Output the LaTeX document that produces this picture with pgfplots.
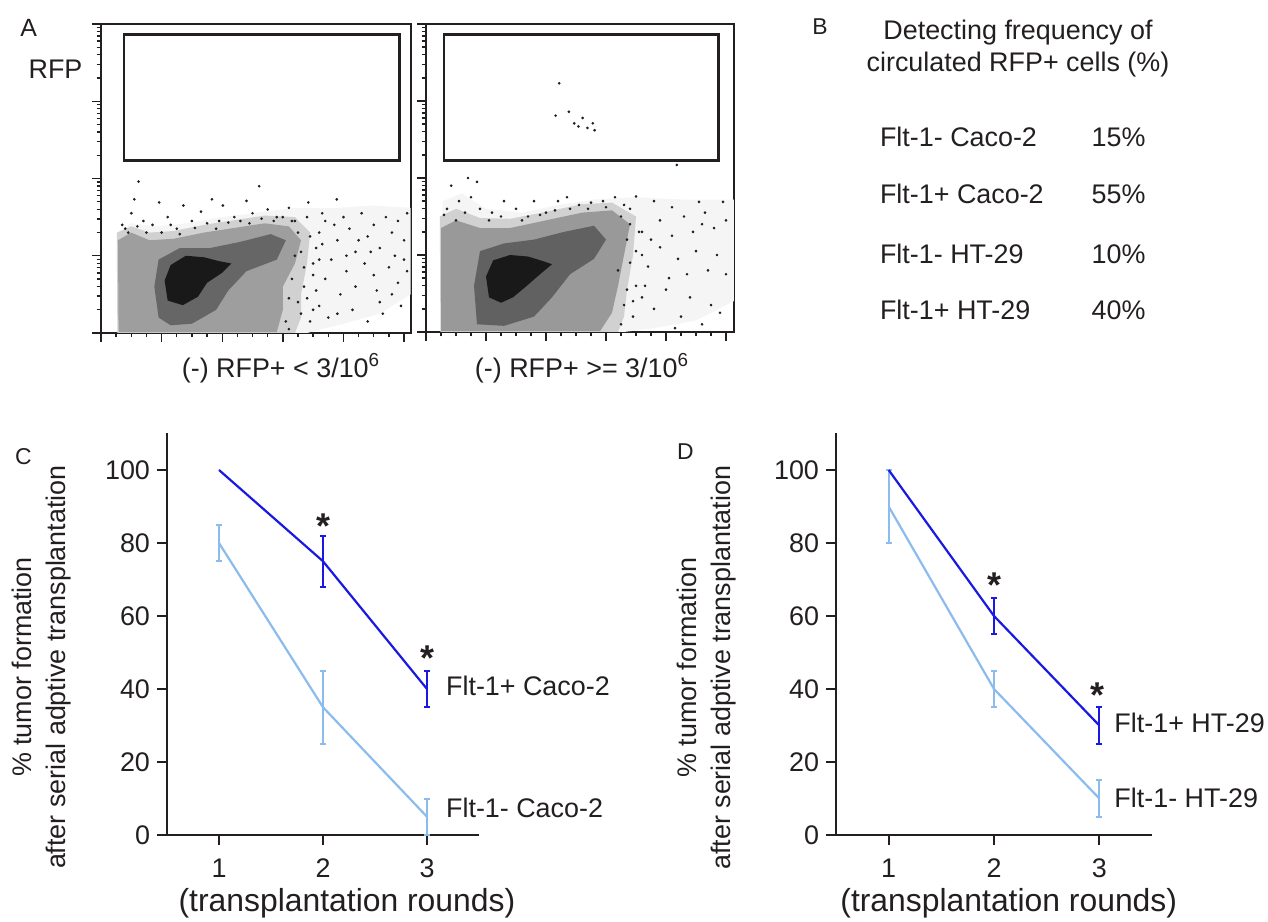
\documentclass[border=0pt]{standalone}
\usepackage{fontspec}
\setmainfont{Liberation Sans}
\usepackage{pgfplots}
\pgfplotsset{compat=1.18}
\definecolor{ink}{RGB}{35,31,32}
\definecolor{dkblue}{RGB}{25,25,225}
\definecolor{ltblue}{RGB}{140,188,238}
\pgfplotsset{
  facs/.style={scale only axis, xmin=0, ymin=0, ymax=4,
    axis line style={line width=0.8bp, ink}, tick style={line width=0.7bp, ink},
    tick align=outside, tick pos=left,
    xtick={0,...,5}, minor x tick num=3, ytick={0,...,4},
    minor ytick={0.301,0.477,0.602,0.699,0.778,0.845,0.903,0.954,
      1.301,1.477,1.602,1.699,1.778,1.845,1.903,1.954,
      2.301,2.477,2.602,2.699,2.778,2.845,2.903,2.954,
      3.301,3.477,3.602,3.699,3.778,3.845,3.903,3.954},
    xticklabels={}, yticklabels={},
    major tick length=4.5bp, minor tick length=2.2bp, clip=true},
  dots/.style={only marks, mark=*, mark size=0.45bp, ink},
  gate/.style={mark=none, draw=ink, line width=1.4bp},
  tumor/.style={scale only axis, height=200.75bp, xmin=0.5, xmax=3.5, ymin=0, ymax=110,
    axis x line=bottom, axis y line=left, axis line style={line width=1bp, ink, -},
    tick style={line width=1bp, ink}, tick align=outside, major tick length=5bp,
    xtick={1,2,3}, ytick={0,20,...,100},
    ticklabel style={font=\fontsize{13.5}{16}\selectfont, text=ink},
    xticklabel style={yshift=-3.5bp},
    /pgf/number format/assume math mode=true, clip=false},
  hi/.style={dkblue, line width=1.1bp, mark=none},
  lo/.style={ltblue, line width=1.1bp, mark=none},
  bars/.style={draw=none, mark=none, forget plot, error bars/.cd, y dir=both, y explicit,
    error mark=-, error bar style={draw=#1, line width=1bp},
    error mark options={rotate=90, draw=#1, line width=1bp, mark size=1.5bp}},
}
\begin{document}
\begin{tikzpicture}[font=\fontsize{13.5}{16}\selectfont, text=ink]
\useasboundingbox (0,0) rectangle (634bp,461bp);

% ---- A, left: (-) RFP+ < 3/10^6
\begin{axis}[facs, at={(50.5bp,294.5bp)}, anchor=south west, width=155bp, height=154.5bp, xmax=5.115]
 \addplot[fill=black!4, draw=none, mark=none] coordinates {(0.28,0) (0.27,0.6) (0.3,1.3) (0.5,1.42) (0.9,1.38) (1.4,1.42) (2.0,1.5) (2.6,1.56) (3.2,1.62) (3.9,1.62) (4.5,1.65) (5.11,1.62) (5.11,0.5) (4.6,0.25) (4.0,0.12) (3.4,0)} -- cycle;
 \addplot[fill=black!18, draw=none, mark=none] coordinates {(0.27,0) (0.26,1.3) (0.5,1.38) (0.8,1.3) (1.2,1.32) (1.7,1.4) (2.2,1.46) (2.7,1.52) (3.2,1.5) (3.45,1.3) (3.4,0.9) (3.3,0.5) (3.3,0.2) (3.2,0)} -- cycle;
 \addplot[fill=black!38, draw=none, mark=none] coordinates {(0.29,0.01) (0.28,1.2) (0.5,1.3) (0.8,1.2) (1.2,1.22) (1.7,1.3) (2.2,1.36) (2.7,1.42) (3.1,1.38) (3.3,1.2) (3.2,0.9) (3.0,0.6) (3.0,0.3) (2.9,0.01)} -- cycle;
 \addplot[fill=black!60, draw=none, mark=none] coordinates {(0.95,0.2) (0.88,0.6) (0.95,0.95) (1.3,1.1) (1.8,1.1) (2.3,1.18) (2.8,1.28) (3.05,1.2) (2.9,0.95) (2.4,0.8) (2.1,0.55) (1.9,0.3) (1.5,0.12) (1.15,0.1)} -- cycle;
 \addplot[fill=black!90, draw=none, mark=none] coordinates {(1.1,0.42) (1.05,0.68) (1.15,0.88) (1.4,1.0) (1.7,0.98) (1.95,0.93) (2.15,0.9) (2.0,0.78) (1.75,0.65) (1.6,0.47) (1.35,0.36)} -- cycle;
 \addplot[dots] coordinates {
  (3.4,1.5) (3.6,1.3) (3.7,1.45) (3.9,1.2) (4.0,1.5) (4.1,1.35) (4.2,1.05) (4.3,1.55) (4.4,1.25) (4.5,1.4)
  (4.6,1.1) (4.7,1.5) (4.8,1.3) (4.9,1.45) (5.0,1.2) (5.05,1.55) (3.5,0.9) (3.7,0.7) (3.8,0.95) (3.95,0.5)
  (4.05,0.8) (4.2,0.6) (4.35,0.9) (4.5,0.75) (4.6,0.4) (4.75,0.85) (4.9,0.65) (5.0,0.95) (3.6,0.35) (3.9,0.25)
  (4.15,0.3) (4.4,0.15) (4.65,0.25) (4.95,0.35) (3.45,0.15) (4.85,1.0) (3.55,1.1) (4.25,1.2) (3.85,1.4) (4.55,0.55)
  (5.05,0.8) (3.75,0.2) (4.05,1.0) (3.35,0.6) (3.3,1.05) (3.25,0.4) (3.65,1.55) (4.45,1.05) (4.8,0.5) (3.5,0.75)
  (0.35,1.4) (0.5,1.55) (0.55,1.73) (0.62,1.96) (0.7,1.45) (0.96,1.69) (1.1,1.5) (1.36,1.65) (1.5,1.45) (1.65,1.57)
  (1.83,1.73) (2.01,1.65) (2.2,1.5) (2.4,1.71) (2.61,1.9) (2.5,1.55) (2.75,1.6) (2.9,1.5) (3.1,1.62) (3.42,1.69)
  (3.89,1.73) (3.2,1.45) (0.45,1.3) (0.85,1.4) (1.25,1.35) (1.95,1.45)
  (0.4,1.35) (0.6,1.38) (0.75,1.3) (1.0,1.3) (1.15,1.4) (1.3,1.28) (1.55,1.36) (1.75,1.42) (1.9,1.35) (2.1,1.43)
  (2.3,1.45) (2.45,1.42) (2.65,1.48) (2.85,1.45) (3.0,1.5) (3.15,1.45) (3.05,0.15) (3.1,0.45) (3.15,0.7) (3.2,1.0)
  (3.3,0.25) (3.35,0.85) (3.4,0.45) (3.45,1.25) (3.25,1.3) (3.1,0.05) (3.55,0.55) (3.6,0.95) (3.5,0.3) (3.65,1.15)};
 \addplot[gate] coordinates {(0.38,2.23) (0.38,3.86) (4.92,3.86) (4.92,2.23)} -- cycle;
\end{axis}

% ---- A, right: (-) RFP+ >= 3/10^6
\begin{axis}[facs, at={(213bp,295bp)}, anchor=south west, width=154bp, height=154bp, xmax=5.133]
 \addplot[fill=black!4, draw=none, mark=none] coordinates {(0.25,0) (0.24,1.0) (0.28,1.7) (0.6,1.8) (1.0,1.6) (1.6,1.55) (2.2,1.65) (2.8,1.72) (3.5,1.75) (4.3,1.72) (5.13,1.72) (5.13,0.4) (4.5,0.15) (3.8,0.05) (3.3,0)} -- cycle;
 \addplot[fill=black!18, draw=none, mark=none] coordinates {(0.24,0) (0.23,1.5) (0.5,1.6) (0.9,1.48) (1.4,1.47) (2.0,1.56) (2.6,1.66) (3.1,1.68) (3.5,1.5) (3.45,1.0) (3.35,0.55) (3.3,0.2) (3.2,0)} -- cycle;
 \addplot[fill=black!40, draw=none, mark=none] coordinates {(0.25,0.01) (0.25,1.35) (0.5,1.45) (0.9,1.35) (1.4,1.35) (2.0,1.45) (2.6,1.55) (3.1,1.58) (3.4,1.4) (3.3,1.0) (3.2,0.6) (3.1,0.25) (2.9,0.01)} -- cycle;
 \addplot[fill=black!62, draw=none, mark=none] coordinates {(0.85,0.1) (0.8,0.6) (0.9,1.05) (1.3,1.15) (1.8,1.2) (2.3,1.3) (2.8,1.38) (3.0,1.2) (2.8,0.95) (2.4,0.75) (2.1,0.45) (1.8,0.2) (1.3,0.08)} -- cycle;
 \addplot[fill=black!90, draw=none, mark=none] coordinates {(1.05,0.45) (1.0,0.72) (1.12,0.93) (1.4,1.0) (1.7,0.98) (1.95,0.92) (2.1,0.88) (1.9,0.75) (1.65,0.58) (1.45,0.45) (1.25,0.38)} -- cycle;
 \addplot[dots] coordinates {
  (3.3,1.65) (3.5,1.76) (3.8,1.7) (4.1,1.62) (4.55,1.69) (4.95,1.69) (3.4,1.4) (3.6,1.3) (3.9,1.45) (4.1,1.25)
  (4.3,1.5) (4.45,1.3) (4.6,1.4) (4.8,1.35) (5.0,1.45) (3.5,1.05) (3.7,0.85) (3.9,1.1) (4.05,0.7) (4.2,0.95)
  (4.35,0.75) (4.5,1.05) (4.7,0.8) (4.85,1.0) (5.0,0.75) (3.35,0.55) (3.6,0.45) (3.8,0.3) (4.0,0.55) (4.25,0.2)
  (4.4,0.45) (4.6,0.1) (4.75,0.35) (4.9,0.25) (3.45,0.2) (3.2,0.8) (4.15,0.05) (3.65,0.6) (3.75,1.2) (4.65,1.55)
  (0.35,1.6) (0.42,1.9) (0.55,1.7) (0.7,2.0) (0.75,1.75) (0.85,1.95) (0.9,1.6) (1.1,1.55) (1.3,1.7) (1.5,1.6)
  (1.8,1.7) (2.2,1.7) (2.35,1.75) (2.55,1.65) (2.7,1.6) (2.95,1.7) (3.15,1.75) (0.5,1.45) (1.7,1.5) (2.0,1.55)
  (0.3,1.52) (0.65,1.55) (1.05,1.45) (1.25,1.5) (1.6,1.45) (1.9,1.52) (2.15,1.58) (2.4,1.6) (2.75,1.68) (3.0,1.62)
  (3.25,1.5) (3.35,1.2) (3.4,0.9) (3.3,0.35) (3.25,0.1) (3.5,0.6) (3.55,1.3) (3.45,0.4) (3.6,1.0) (3.4,1.6)
  (2.22,3.23) (2.16,2.81) (2.38,2.86) (2.61,2.78) (2.47,2.71) (2.54,2.67) (2.69,2.65) (2.78,2.71) (2.81,2.62)
  (4.18,2.17)};
 \addplot[gate] coordinates {(0.30,2.23) (0.30,3.86) (4.88,3.86) (4.88,2.23)} -- cycle;
\end{axis}

\node[anchor=base west, font=\fontsize{12.5}{14}\selectfont] at (6.7bp,442.7bp) {A};
\node[anchor=base west] at (10.8bp,421.8bp) {RFP};
\node[anchor=base] at (140.5bp,272.3bp) {(-) RFP+ < 3/10\textsuperscript{6}};
\node[anchor=base] at (291bp,272.3bp) {(-) RFP+ >= 3/10\textsuperscript{6}};

% ---- B
\node[anchor=base, font=\fontsize{11.5}{14}\selectfont] at (410bp,443.5bp) {B};
\node[anchor=base] at (509bp,441.2bp) {Detecting frequency of};
\node[anchor=base] at (509bp,425.2bp) {circulated RFP+ cells (\%)};
\node[anchor=base west] at (436.5bp,387.7bp) {Flt-1- Caco-2};
\node[anchor=base west] at (436.5bp,359.3bp) {Flt-1+ Caco-2};
\node[anchor=base west] at (436.5bp,329.3bp) {Flt-1- HT-29};
\node[anchor=base west] at (436.5bp,301.3bp) {Flt-1+ HT-29};
\node[anchor=base east] at (576.3bp,387.7bp) {15\%};
\node[anchor=base east] at (576.3bp,359.3bp) {55\%};
\node[anchor=base east] at (576.3bp,329.3bp) {10\%};
\node[anchor=base east] at (576.3bp,301.3bp) {40\%};

% ---- C
\begin{axis}[tumor, at={(83.5bp,43.5bp)}, anchor=south west, width=156bp]
 \addplot[lo] coordinates {(1,80) (2,35) (3,5)};
 \addplot[bars=ltblue] coordinates {(1,80) +- (0,5) (2,35) +- (0,10) (3,5) +- (0,5)};
 \addplot[hi] coordinates {(1,100) (2,75) (3,40)};
 \addplot[bars=dkblue] coordinates {(2,75) +- (0,7) (3,40) +- (0,5)};
 \node[anchor=base, font=\fontsize{18}{18}\selectfont\bfseries] at (axis cs:2,81.1) {*};
 \node[anchor=base, font=\fontsize{18}{18}\selectfont\bfseries] at (axis cs:3,45.0) {*};
 \node[anchor=west, inner sep=0] at (axis cs:3.18,40.9) {Flt-1+ Caco-2};
 \node[anchor=west, inner sep=0] at (axis cs:3.18,7.4) {Flt-1- Caco-2};
 \node[rotate=90, align=center, font=\fontsize{13.5}{17}\selectfont] at (axis cs:-0.71,46)
   {\% tumor formation\\after serial adptive transplantation};
 \node[font=\fontsize{16}{18}\selectfont] at (axis cs:2.23,-18.6) {(transplantation rounds)};
 \node[anchor=base, font=\fontsize{11.5}{14}\selectfont] at (axis cs:-0.88,101.5) {C};
\end{axis}

% ---- D
\begin{axis}[tumor, at={(418bp,43.5bp)}, anchor=south west, width=158bp]
 \addplot[lo] coordinates {(1,90) (2,40) (3,10)};
 \addplot[bars=ltblue] coordinates {(1,90) +- (0,10) (2,40) +- (0,5) (3,10) +- (0,5)};
 \addplot[hi] coordinates {(1,100) (2,60) (3,30)};
 \addplot[bars=dkblue] coordinates {(2,60) +- (0,5) (3,30) +- (0,5)};
 \node[anchor=base, font=\fontsize{18}{18}\selectfont\bfseries] at (axis cs:2,65.1) {*};
 \node[anchor=base, font=\fontsize{18}{18}\selectfont\bfseries] at (axis cs:2.98,34.9) {*};
 \node[anchor=west, inner sep=0] at (axis cs:3.14,30.7) {Flt-1+ HT-29};
 \node[anchor=west, inner sep=0] at (axis cs:3.14,10.1) {Flt-1- HT-29};
 \node[rotate=90, align=center, font=\fontsize{13.5}{17}\selectfont] at (axis cs:-0.73,45.8)
   {\% tumor formation\\after serial adptive transplantation};
 \node[font=\fontsize{16}{18}\selectfont] at (axis cs:2.14,-18.6) {(transplantation rounds)};
 \node[anchor=base, font=\fontsize{11.5}{14}\selectfont] at (axis cs:-0.93,103.0) {D};
\end{axis}
\end{tikzpicture}
\end{document}
